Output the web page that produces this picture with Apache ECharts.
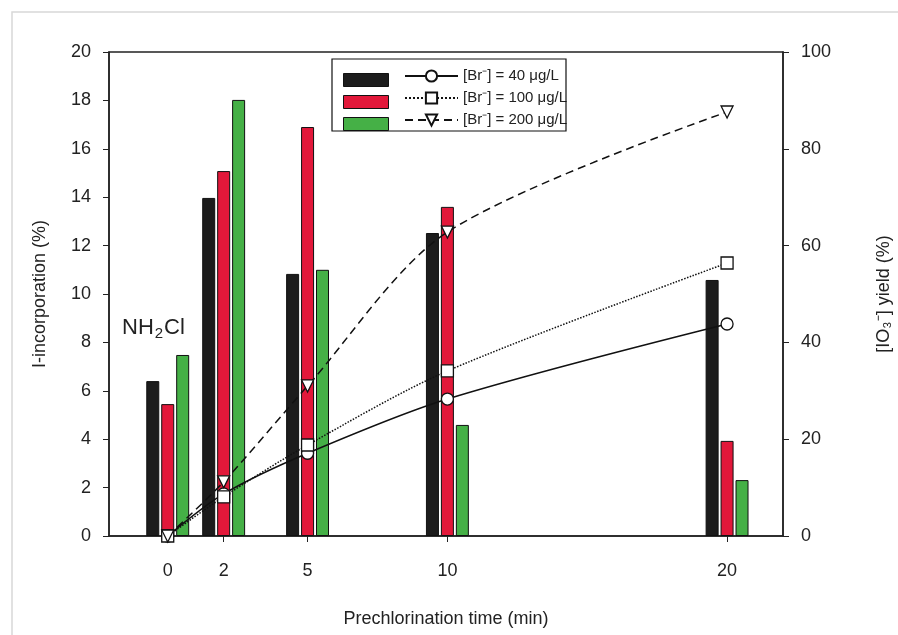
<!DOCTYPE html>
<html>
<head>
<meta charset="utf-8">
<script src="https://cdn.jsdelivr.net/npm/echarts@6/dist/echarts.min.js"></script>
<style>
  html, body { margin: 0; padding: 0; background: #fff; }
  #chart { width: 898px; height: 635px; }
</style>
</head>
<body>
<div id="chart"></div>
<script>
// 预氯化时间 (min)
const times = [0, 2, 5, 10, 20]
// I-incorporation (%) 柱状
const incorp40 = [6.4, 13.97, 10.83, 12.52, 10.58]
const incorp100 = [5.45, 15.08, 16.9, 13.6, 3.93]
const incorp200 = [7.48, 18.02, 11.0, 4.59, 2.31]
// IO3- yield (%) 折线
const yield40 = [0, 8.7, 17.1, 28.3, 43.8]
const yield100 = [0, 8.1, 18.8, 34.1, 56.4]
const yield200 = [0, 11.2, 31.0, 62.8, 87.6]
const seriesNames = ['[Br⁻] = 40 μg/L', '[Br⁻] = 100 μg/L', '[Br⁻] = 200 μg/L']
const barColors = ['#1c1c1c', '#e2183a', '#45b046']

const font = "'Liberation Sans', Arial, sans-serif"
const axisColor = '#222'

const pairs = (ys) => times.map((t, i) => [t, ys[i]])

const barSeries = [incorp40, incorp100, incorp200].map((ys, i) => ({
    name: 'bar' + i,
    type: 'bar',
    data: pairs(ys),
    barWidth: 13,
    barGap: '15%',
    itemStyle: { color: barColors[i], borderColor: '#111', borderWidth: 1 },
    z: 2
}))

const lineStyles = [
    { symbol: 'circle', type: 'solid' },
    { symbol: 'rect', type: 'dotted' },
    { symbol: 'triangle', type: [8, 5] }
]

const lineSeries = [yield40, yield100, yield200].map((ys, i) => ({
    name: seriesNames[i],
    type: 'line',
    yAxisIndex: 1,
    data: pairs(ys),
    smooth: 0.3,
    symbol: lineStyles[i].symbol,
    symbolRotate: i === 2 ? 180 : 0,
    symbolSize: 12,
    showAllSymbol: true,
    lineStyle: { color: '#111', width: 1.5, type: lineStyles[i].type },
    itemStyle: { color: '#fff', borderColor: '#111', borderWidth: 1.3 },
    z: 5
}))

const chart = echarts.init(document.getElementById('chart'), null, { renderer: 'canvas' })

chart.setOption({
    animation: false,
    backgroundColor: '#fff',
    textStyle: { fontFamily: font },
    grid: {
        left: 109, right: 115, top: 52, bottom: 99,
        outerBoundsMode: 'none',
        containLabel: false,
        show: true, borderColor: axisColor, borderWidth: 1.5
    },
    legend: [
        {
            // 柱状图图例，只显示色块
            data: ['bar0', 'bar1', 'bar2'],
            orient: 'vertical',
            left: 338, top: 68,
            itemWidth: 45, itemHeight: 13, itemGap: 8,
            icon: 'rect',
            formatter: () => '',
            textStyle: { fontSize: 10, lineHeight: 10 },
            selectedMode: false,
            itemStyle: { borderColor: '#111', borderWidth: 1 }
        },
        {
            data: seriesNames,
            orient: 'vertical',
            left: 399, top: 63,
            itemWidth: 53, itemHeight: 14, itemGap: 6,
            selectedMode: false,
            textStyle: { fontFamily: font, fontSize: 15, lineHeight: 16, color: '#222', padding: [0, 0, 0, 0] }
        }
    ],
    xAxis: {
        type: 'value',
        min: -2.1, max: 22,
        name: 'Prechlorination time (min)',
        nameLocation: 'middle',
        nameGap: 74,
        nameTextStyle: { fontFamily: font, fontSize: 18, color: '#222' },
        axisLine: { show: true, onZero: false, lineStyle: { color: axisColor, width: 1.5 } },
        axisTick: { show: true, length: 6, customValues: times, lineStyle: { color: axisColor } },
        axisLabel: { customValues: times, margin: 26, fontSize: 18, color: '#222', fontFamily: font },
        splitLine: { show: false }
    },
    yAxis: [
        {
            type: 'value',
            min: 0, max: 20, interval: 2,
            name: 'I-incorporation (%)',
            nameLocation: 'middle',
            nameGap: 60,
            nameTextStyle: { fontFamily: font, fontSize: 18, color: '#222' },
            axisLine: { show: true, onZero: false, lineStyle: { color: axisColor, width: 1.5 } },
            axisTick: { show: true, length: 6, lineStyle: { color: axisColor } },
            axisLabel: { margin: 18, fontSize: 18, color: '#222', fontFamily: font },
            splitLine: { show: false }
        },
        {
            type: 'value',
            position: 'right',
            min: 0, max: 100, interval: 20,
            name: '[IO₃⁻] yield (%)',
            nameLocation: 'middle',
            nameRotate: 90,
            nameGap: 92,
            nameTextStyle: { fontFamily: font, fontSize: 18, color: '#222' },
            axisLine: { show: true, onZero: false, lineStyle: { color: axisColor, width: 1.5 } },
            axisTick: { show: true, length: 6, lineStyle: { color: axisColor } },
            axisLabel: { margin: 18, fontSize: 18, color: '#222', fontFamily: font },
            splitLine: { show: false }
        }
    ],
    graphic: [
        {
            // 外框
            type: 'rect',
            shape: { x: 12, y: 12, width: 900, height: 640 },
            style: { fill: 'none', stroke: '#d8d8d8', lineWidth: 1.5 },
            silent: true
        },
        {
            // 图例边框
            type: 'rect',
            shape: { x: 332, y: 59, width: 234, height: 72 },
            style: { fill: 'none', stroke: '#111', lineWidth: 1.2 },
            silent: true,
            z: 10
        },
        {
            type: 'text',
            left: 122, top: 317,
            style: {
                text: 'NH{sub|2}Cl',
                font: '22px ' + font,
                fill: '#222',
                rich: {
                    sub: { fontSize: 15, fontFamily: font, fill: '#222', padding: [12, 1, 0, 1] }
                }
            },
            z: 10
        }
    ],
    series: [...barSeries, ...lineSeries]
})
</script>
</body>
</html>
